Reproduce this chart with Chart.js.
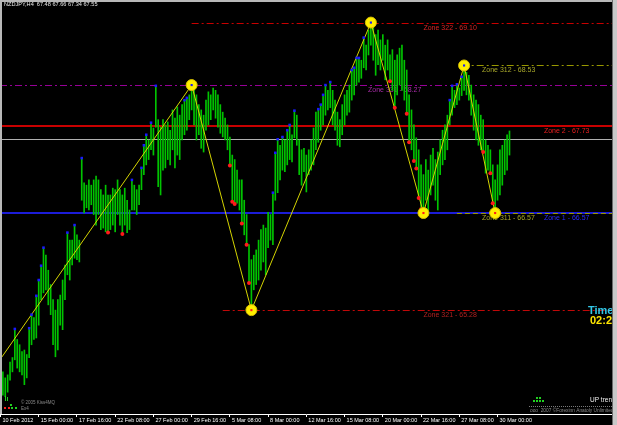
<!DOCTYPE html>
<html lang="en">
<head>
<meta charset="UTF-8">
<title>NZDJPY,H4</title>
<script src="https://cdn.jsdelivr.net/npm/chart.js"></script>
<style>
  html, body { margin: 0; padding: 0; background: #000; overflow: hidden; }
  #wrap { width: 617px; height: 425px; }
</style>
</head>
<body>
<div id="wrap"><canvas id="chart" width="617" height="425"></canvas></div>
<script>
// Symbol / last bar
const symbol = 'NZDJPY,H4';
const lastOpen = 67.48;
const lastClose = 67.55;

// H4 bars (high / low), bar index 0 = first visible bar
const barHigh = [
  64.46,64.38,64.42,64.59,64.65,65.03,64.89,64.82,64.73,64.75,
  64.69,65.04,65.22,65.18,65.47,65.68,65.87,66.11,66.01,65.81,
  65.62,65.42,65.28,65.42,65.48,65.68,65.88,66.31,66.21,66.21,
  66.41,66.28,66.21,67.30,66.97,66.94,67.01,66.94,67.01,67.06,
  67.01,66.88,66.81,66.94,66.81,66.81,66.90,66.88,67.01,66.88,
  66.81,66.90,66.74,66.61,67.01,66.94,66.88,66.94,67.17,67.47,
  67.61,67.54,67.77,67.70,68.26,67.81,67.71,67.81,67.74,67.78,
  67.67,67.94,67.83,67.98,67.87,68.01,68.07,68.10,68.14,68.27,
  68.20,68.14,68.01,67.94,67.87,68.07,68.18,68.14,68.23,68.20,
  68.14,68.01,67.91,67.83,67.74,67.58,67.34,67.28,67.14,67.01,
  67.01,66.74,66.55,66.15,65.95,66.01,66.08,66.21,66.35,66.41,
  66.37,66.58,66.55,66.84,67.37,67.55,67.47,67.58,67.54,67.67,
  67.74,67.61,67.93,67.87,67.54,67.41,67.43,67.34,67.41,67.54,
  67.70,67.91,67.95,68.01,68.14,68.27,68.20,68.31,68.20,68.07,
  67.91,67.81,68.01,68.14,68.20,68.27,68.47,68.50,68.63,68.63,
  68.60,68.90,68.80,69.00,69.10,69.03,68.94,69.00,68.87,68.94,
  68.80,68.87,68.67,68.74,68.60,68.67,68.76,68.80,68.60,68.47,
  68.14,67.94,67.74,67.57,67.41,67.21,67.08,67.28,67.14,67.34,
  67.43,67.28,67.38,67.54,67.67,67.74,67.87,68.07,68.26,68.20,
  68.28,68.23,68.38,68.53,68.44,68.40,68.27,68.14,68.07,68.01,
  67.87,67.81,67.54,67.47,67.41,67.21,67.01,67.21,67.41,67.47,
  67.54,67.61,67.66
];
const barLow = [
  64.15,64.13,64.19,64.35,64.46,64.62,64.51,64.46,64.42,64.29,
  64.38,64.65,64.82,64.89,64.91,65.08,65.42,65.51,65.55,65.35,
  65.22,64.82,64.66,64.75,65.08,65.02,65.42,65.75,65.68,65.88,
  65.97,65.95,65.92,66.74,66.57,66.64,66.61,66.68,66.55,66.41,
  66.55,66.35,66.37,66.32,66.31,66.35,66.41,66.32,66.55,66.41,
  66.29,66.41,66.31,66.35,66.61,66.61,66.55,66.68,66.88,67.08,
  67.21,67.28,67.41,67.34,67.71,66.92,66.81,67.14,67.17,67.28,
  67.21,67.41,67.17,67.34,67.28,67.54,67.61,67.67,67.81,67.94,
  67.74,67.54,67.61,67.43,67.38,67.67,67.74,67.81,67.94,67.83,
  67.71,67.63,67.58,67.54,67.41,67.20,66.72,66.69,66.70,66.61,
  66.43,66.28,66.15,65.64,65.28,65.55,65.62,65.68,65.81,65.92,
  65.75,66.11,66.21,66.15,66.74,66.84,67.01,67.14,67.12,67.21,
  67.28,67.25,67.57,67.47,67.08,66.94,67.12,66.85,67.08,67.14,
  67.21,67.41,67.51,67.67,67.74,67.87,67.94,67.97,67.74,67.67,
  67.47,67.45,67.61,67.74,67.87,67.91,68.07,68.14,68.27,68.31,
  68.36,68.50,68.47,68.67,68.80,68.60,68.40,68.54,68.47,68.60,
  68.34,68.47,68.32,68.20,67.97,68.14,68.27,68.20,68.07,67.89,
  67.51,67.41,67.26,67.16,66.77,66.62,66.57,66.74,66.61,66.81,
  66.94,66.74,66.61,67.08,67.21,67.28,67.41,67.74,67.87,67.97,
  68.01,68.07,68.13,68.20,68.14,68.07,67.87,67.67,67.54,67.47,
  67.41,67.38,67.10,67.14,67.10,66.70,66.57,66.74,66.81,66.94,
  67.08,67.14,67.34
];

// fractal markers (bar indices)
const upFractals = [5,11,12,14,15,16,17,27,30,33,54,58,59,60,62,64,76,77,113,114,115,117,119,120,122,132,133,134,135,137,146,147,148,149,151,187,188,190,192];
const downFractals = [44,50,95,96,97,100,102,103,162,164,169,170,172,173,174,175,201,204,205];

// zigzag turning points
const zigzagIdx = [-3, 79, 104, 154, 176, 193, 206];
const zigzagVal = [64.54, 68.27, 65.28, 69.10, 66.57, 68.53, 66.57];

// time axis
const tickIdx = [-1, 15, 31, 47, 63, 79, 95, 111, 127, 143, 159, 175, 191, 207];
const tickLabels = ['10 Feb 2012', '15 Feb 00:00', '17 Feb 16:00', '22 Feb 08:00', '27 Feb 00:00', '29 Feb 16:00',
  '5 Mar 08:00', '8 Mar 00:00', '12 Mar 16:00', '15 Mar 08:00', '20 Mar 00:00', '22 Mar 16:00', '27 Mar 08:00', '30 Mar 00:00'];

// zones
const zoneNames  = ['Zone 322', 'Zone 331', 'Zone 312', 'Zone 2', 'Zone 1', 'Zone 311', 'Zone 321'];
const zoneLevels = [69.10, 68.27, 68.53, 67.73, 66.57, 66.57, 65.28];
const zoneFrom   = [79, null, 192, null, null, 190, 92];
const zoneLabelAt = [176, 152.8, 200.5, 226.4, 226.4, 200.5, 176];

// styles for zones (same order)
const dashDot = [7, 3, 2, 3];
const zoneStyle = [
  { line: '#c80000', text: '#d82424', width: 1, dash: dashDot },
  { line: '#960096', text: '#a82ca8', width: 1, dash: dashDot },
  { line: '#989800', text: '#a8a82a', width: 1, dash: dashDot },
  { line: '#c80000', text: '#ec2020', width: 2, dash: [] },
  { line: '#1c1cd8', text: '#2a2aff', width: 2, dash: [] },
  { line: '#989800', text: '#a8a82a', width: 1, dash: [5, 3] },
  { line: '#c00808', text: '#b02020', width: 1, dash: dashDot }
];

const bars = barHigh.map((h, i) => ({ x: i, y: [barLow[i], h] }));
const upPts = upFractals.map(i => ({ x: i, y: barHigh[i] }));
const downPts = downFractals.map(i => ({ x: i, y: barLow[i] }));
const zigzag = zigzagIdx.map((x, i) => ({ x, y: zigzagVal[i] }));
const turns = zigzag.slice(1);
const turnColors = turns.map((p, j) => p.y > zigzagVal[j] ? '#1a1aff' : '#ff1a1a');

const bgPlugin = {
  id: 'mtBackground',
  beforeDraw(chart) {
    const ctx = chart.ctx;
    ctx.save();
    ctx.fillStyle = '#000';
    ctx.fillRect(0, 0, chart.width, chart.height);
    ctx.restore();
  }
};

const zonePlugin = {
  id: 'zones',
  beforeDatasetsDraw(chart) {
    const { ctx, chartArea: a, scales: { x, y } } = chart;
    ctx.save();
    ctx.beginPath();
    ctx.rect(a.left, a.top, a.right - a.left, a.bottom - a.top);
    ctx.clip();

    // bid line
    const by = Math.round(y.getPixelForValue(lastClose)) + 0.5;
    ctx.strokeStyle = '#b0b0b0';
    ctx.lineWidth = 1;
    ctx.beginPath(); ctx.moveTo(a.left, by); ctx.lineTo(a.right, by); ctx.stroke();

    ctx.font = '7px "Liberation Sans"';
    ctx.textBaseline = 'top';
    ctx.textAlign = 'left';
    zoneLevels.forEach((lvl, k) => {
      const st = zoneStyle[k];
      const py = Math.round(y.getPixelForValue(lvl)) + (st.width === 1 ? 0.5 : 0);
      const x0 = zoneFrom[k] === null ? a.left : x.getPixelForValue(zoneFrom[k]);
      ctx.strokeStyle = st.line;
      ctx.lineWidth = st.width;
      ctx.setLineDash(st.dash);
      ctx.beginPath(); ctx.moveTo(x0, py); ctx.lineTo(a.right, py); ctx.stroke();
      ctx.setLineDash([]);
      ctx.fillStyle = st.text;
      ctx.fillText(zoneNames[k] + ' - ' + lvl.toFixed(2), x.getPixelForValue(zoneLabelAt[k]), py + 1.5);
    });
    ctx.restore();
  }
};

const framePlugin = {
  id: 'frame',
  afterDraw(chart) {
    const { ctx, chartArea: a } = chart;
    const last = barHigh.length - 1;
    ctx.save();
    ctx.textBaseline = 'top';
    ctx.textAlign = 'left';

    // header
    ctx.fillStyle = '#e8e8e8';
    ctx.font = '5.6px "Liberation Sans"';
    ctx.fillText(symbol + '  ' + lastOpen.toFixed(2) + ' ' + barHigh[last].toFixed(2) + ' ' +
      barLow[last].toFixed(2) + ' ' + lastClose.toFixed(2), 4, 2);

    // timer
    ctx.font = 'bold 11px "Liberation Sans"';
    ctx.fillStyle = '#33c8e8';
    ctx.fillText('Time', 588, 305);
    ctx.fillStyle = '#ffe600';
    ctx.fillText('02:27', 590, 315);

    // bottom-left indicator tags
    ctx.fillStyle = '#ff2020';
    ctx.fillRect(4, 407, 2, 2); ctx.fillRect(8, 407, 2, 2);
    ctx.fillStyle = '#20d020';
    ctx.fillRect(11, 407, 2, 2); ctx.fillRect(15, 407, 2, 2); ctx.fillRect(10, 404, 2, 2);
    ctx.fillRect(5, 396, 1, 5); ctx.fillRect(7, 397, 1, 4);
    ctx.fillStyle = '#8a8a8a';
    ctx.font = '4.5px "Liberation Sans"';
    ctx.fillText('\u00a9 2005 Kiss4MQ', 21, 401);
    ctx.fillText('Ex4', 21, 407);

    // bottom-right trend box
    ctx.fillStyle = '#20d020';
    ctx.fillRect(536, 397, 2, 2); ctx.fillRect(539, 397, 2, 2);
    ctx.fillRect(533, 400, 2, 2); ctx.fillRect(536, 400, 2, 2); ctx.fillRect(539, 400, 2, 2); ctx.fillRect(542, 400, 2, 2);
    ctx.fillStyle = '#f0f0f0';
    ctx.font = '6.5px "Liberation Sans"';
    ctx.fillText('UP trend', 590, 397);
    ctx.strokeStyle = '#7a7a7a';
    ctx.setLineDash([1, 1]);
    ctx.beginPath(); ctx.moveTo(529, 406.5); ctx.lineTo(612, 406.5); ctx.stroke();
    ctx.setLineDash([]);
    ctx.fillStyle = '#8a8a8a';
    ctx.font = '4.8px "Liberation Sans"';
    ctx.fillText('ooo  2007 \u00a9Forexinn Anatoly Unlimited', 530, 408);

    // window frame
    ctx.fillStyle = '#b8b8b8';
    ctx.fillRect(0, 0, a.right, 2);
    ctx.fillRect(0, 0, 2, a.bottom);
    ctx.fillStyle = '#c8c8c8';
    ctx.fillRect(a.right, 0, chart.width - a.right, chart.height);
    ctx.fillStyle = '#6a6a6a';
    ctx.fillRect(a.right, 0, 1, chart.height);
    ctx.restore();
  }
};

new Chart(document.getElementById('chart'), {
  type: 'bar',
  data: {
    datasets: [
      {
        type: 'bar',
        data: bars,
        backgroundColor: '#00c400',
        barThickness: 1,
        grouped: false,
        order: 5
      },
      {
        type: 'line',
        data: zigzag,
        borderColor: '#d4d400',
        borderWidth: 1,
        pointRadius: 0,
        tension: 0,
        order: 4
      },
      {
        type: 'scatter',
        data: upPts,
        pointStyle: 'rect',
        pointRadius: 1.8,
        backgroundColor: '#1a1aff',
        borderWidth: 0,
        order: 3
      },
      {
        type: 'scatter',
        data: downPts,
        pointStyle: 'circle',
        pointRadius: 2,
        backgroundColor: '#ff1a1a',
        borderWidth: 0,
        order: 3
      },
      {
        type: 'scatter',
        data: turns,
        pointRadius: 5.5,
        backgroundColor: '#ffee00',
        borderColor: '#d8c000',
        borderWidth: 1,
        order: 2
      },
      {
        type: 'scatter',
        data: turns,
        pointStyle: 'rect',
        pointRadius: 1.5,
        backgroundColor: turnColors,
        borderWidth: 0,
        order: 1
      }
    ]
  },
  options: {
    responsive: false,
    devicePixelRatio: 1,
    animation: false,
    layout: { autoPadding: false, padding: { left: 0, right: 5, top: 0, bottom: 0 } },
    plugins: { legend: { display: false }, tooltip: { enabled: false } },
    scales: {
      x: {
        type: 'linear',
        position: 'bottom',
        min: -1.2,
        max: 254.9,
        offset: false,
        grid: { display: true, offset: false, drawOnChartArea: false, drawTicks: true, tickLength: 3, color: '#ffffff' },
        border: { display: true, color: '#ffffff', width: 1 },
        afterBuildTicks: scale => { scale.ticks = tickIdx.map(v => ({ value: v })); },
        afterFit: scale => { scale.height = 11; },
        ticks: {
          color: '#ffffff',
          font: { size: 5.5, family: 'Liberation Sans' },
          autoSkip: false,
          maxRotation: 0,
          align: 'start',
          padding: 0,
          labelOffset: 2,
          callback: (value, index) => tickLabels[index]
        }
      },
      y: {
        display: false,
        min: 63.90,
        max: 69.40
      }
    }
  },
  plugins: [bgPlugin, zonePlugin, framePlugin]
});
</script>
</body>
</html>
